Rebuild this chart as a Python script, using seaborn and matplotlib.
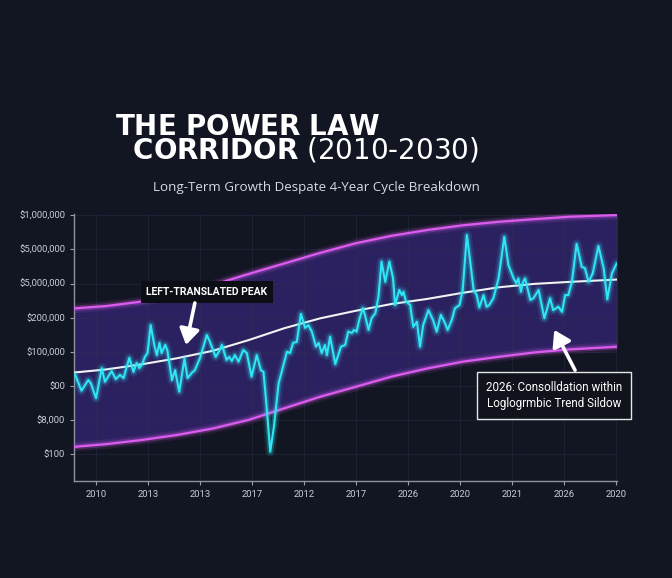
import numpy as np
import pandas as pd
import seaborn as sns
import matplotlib.pyplot as plt
import matplotlib.patheffects as pe

# tick labels, as printed on the chart
x_labels = ['2010', '2013', '2013', '2017', '2012', '2017', '2026', '2020', '2021', '2026', '2020']
y_labels = ['$100', '$8,000', '$00', '$100,000', '$200,000', '$5,000,000', '$5,000,000', '$1,000,000']

# power law corridor (positions in tick slots)
band_x = [-0.43, 0.19, 0.87, 1.56, 2.25, 2.93, 3.62, 4.31, 4.99, 5.68, 6.37, 7.06, 7.74, 8.43, 9.12, 10.06]
band_upper = [4.27, 4.34, 4.47, 4.68, 4.96, 5.28, 5.59, 5.90, 6.18, 6.40, 6.57, 6.71, 6.81, 6.89, 6.96, 7.01]
band_lower = [0.21, 0.29, 0.41, 0.56, 0.75, 1.00, 1.34, 1.68, 1.97, 2.27, 2.51, 2.71, 2.85, 2.98, 3.07, 3.15]
trend = [2.39, 2.48, 2.63, 2.81, 3.03, 3.34, 3.69, 3.98, 4.20, 4.40, 4.55, 4.73, 4.89, 4.99, 5.05, 5.12]

# price path
price_x = [-0.40, -0.28, -0.15, -0.10, 0.00, 0.11, 0.17, 0.30, 0.38, 0.46,
           0.53, 0.64, 0.72, 0.78, 0.83, 0.88, 0.94, 0.99, 1.05, 1.12,
           1.17, 1.22, 1.26, 1.33, 1.37, 1.42, 1.46, 1.52, 1.60, 1.70,
           1.76, 1.84, 1.90, 2.00, 2.13, 2.19, 2.30, 2.38, 2.42, 2.51,
           2.56, 2.61, 2.67, 2.74, 2.83, 2.90, 2.99, 3.09, 3.17, 3.22,
           3.28, 3.35, 3.42, 3.51, 3.57, 3.67, 3.73, 3.79, 3.86, 3.94,
           4.02, 4.08, 4.15, 4.23, 4.28, 4.34, 4.40, 4.44, 4.50, 4.60,
           4.71, 4.79, 4.85, 4.92, 4.96, 5.01, 5.06, 5.13, 5.17, 5.24,
           5.30, 5.37, 5.43, 5.49, 5.56, 5.64, 5.71, 5.75, 5.83, 5.88,
           5.91, 5.96, 6.04, 6.10, 6.17, 6.23, 6.29, 6.39, 6.48, 6.55,
           6.63, 6.71, 6.76, 6.84, 6.90, 6.99, 7.05, 7.13, 7.21, 7.26,
           7.32, 7.37, 7.45, 7.51, 7.56, 7.64, 7.74, 7.85, 7.93, 8.03,
           8.08, 8.12, 8.17, 8.21, 8.25, 8.35, 8.41, 8.51, 8.62, 8.73,
           8.79, 8.89, 8.96, 9.02, 9.08, 9.15, 9.24, 9.34, 9.40, 9.47,
           9.55, 9.66, 9.76, 9.83, 9.92, 10.01]
price_y = [2.32, 1.86, 2.17, 2.08, 1.64, 2.52, 2.12, 2.43, 2.20, 2.32,
           2.23, 2.82, 2.41, 2.67, 2.52, 2.61, 2.85, 2.96, 3.78, 3.20,
           2.90, 3.26, 2.96, 3.20, 3.05, 2.56, 2.17, 2.46, 1.83, 2.79,
           2.23, 2.38, 2.46, 2.82, 3.49, 3.29, 2.85, 3.05, 3.20, 2.76,
           2.85, 2.73, 2.90, 2.71, 3.05, 2.96, 2.27, 2.90, 2.46, 2.41,
           1.39, 0.07, 0.80, 2.07, 2.41, 3.00, 2.96, 3.26, 3.29, 4.11,
           3.70, 3.78, 3.59, 3.15, 3.26, 2.96, 3.20, 2.90, 3.44, 2.64,
           3.15, 3.20, 3.59, 3.55, 3.64, 3.59, 3.93, 4.28, 4.08, 3.64,
           3.99, 4.13, 4.61, 5.64, 5.05, 5.64, 5.16, 4.37, 4.81, 4.66,
           4.76, 4.47, 4.37, 3.73, 3.88, 3.15, 3.78, 4.22, 3.93, 3.59,
           4.08, 3.84, 3.64, 3.93, 4.27, 4.37, 4.81, 6.42, 5.45, 4.81,
           4.66, 4.30, 4.66, 4.32, 4.37, 4.57, 5.16, 6.37, 5.54, 5.15,
           5.01, 5.15, 4.76, 5.05, 5.15, 4.52, 4.57, 4.81, 3.98, 4.57,
           4.22, 4.32, 4.17, 4.66, 4.66, 5.05, 6.16, 5.49, 5.45, 5.05,
           5.30, 6.10, 5.45, 4.54, 5.30, 5.59]

bg = '#121522'
cyan = '#2ee6f5'
magenta = '#dc5cf0'

sns.set_style('dark', rc={'axes.facecolor': bg, 'figure.facecolor': bg})
plt.rcParams['font.family'] = ['Roboto', 'DejaVu Sans']
plt.rcParams['mathtext.fontset'] = 'dejavusans'

fig = plt.figure(figsize=(6.72, 5.78), dpi=100)
ax = fig.add_axes([0.1104, 0.1678, 0.808, 0.4626])

# corridor
ax.fill_between(band_x, band_lower, band_upper, color='#2b2060', lw=0, zorder=1)

def glow(c):
    return [pe.Stroke(linewidth=7, foreground=c, alpha=0.10),
            pe.Stroke(linewidth=4, foreground=c, alpha=0.25),
            pe.Normal()]

sns.lineplot(x=band_x, y=band_upper, ax=ax, color=magenta, lw=1.6, path_effects=glow(magenta), zorder=3)
sns.lineplot(x=band_x, y=band_lower, ax=ax, color=magenta, lw=1.6, path_effects=glow(magenta), zorder=3)
sns.lineplot(x=band_x, y=trend, ax=ax, color='#f2f2f2', lw=1.5, zorder=4)
sns.lineplot(x=price_x, y=price_y, ax=ax, color=cyan, lw=1.5, path_effects=glow(cyan), zorder=5)

ax.set_xlim(-0.42, 10.02)
ax.set_ylim(-0.79, 7.05)
ax.set_xticks(range(len(x_labels)))
ax.set_xticklabels(x_labels)
ax.set_yticks(range(len(y_labels)))
ax.set_yticklabels(y_labels)
ax.tick_params(colors='#9aa0ad', labelcolor='#c9ccd4', labelsize=6.8, length=3, width=0.8,
               direction='out', bottom=True, left=True)
for side in ['top', 'right']:
    ax.spines[side].set_visible(False)
for side in ['left', 'bottom']:
    ax.spines[side].set_visible(True)
    ax.spines[side].set_color('#8d929e')
    ax.spines[side].set_linewidth(1.0)
ax.set_axisbelow('line')
ax.grid(True, color='#2c3150', lw=0.6, alpha=0.5)
ax.set_xlabel('')
ax.set_ylabel('')

# annotations
arrow = dict(arrowstyle='-|>,head_length=0.95,head_width=0.6', color='white',
             lw=2.6, mutation_scale=10, shrinkA=0, shrinkB=0)
ax.text(2.13, 4.75, 'LEFT-TRANSLATED PEAK', color='white', fontsize=7.5, fontweight='semibold',
        ha='center', va='center', zorder=6,
        bbox=dict(boxstyle='square,pad=0.55', fc='#0c0e15', ec='none'))
ax.annotate('', xy=(1.73, 3.20), xytext=(1.90, 4.43), arrowprops=arrow, zorder=6)

ax.text(8.81, 1.72, '2026: Consolldation within\nLoglogrmbic Trend Sildow', color='white',
        fontsize=8.4, ha='center', va='center', linespacing=1.3, zorder=6, clip_on=False,
        bbox=dict(boxstyle='square,pad=0.75', fc='#10131c', ec='#e6e6e6', lw=1.0))
ax.annotate('', xy=(8.81, 3.64), xytext=(9.21, 2.46), arrowprops=arrow, zorder=6)

# title: bold words via mathtext so both lines stay one text
title_lines = r'$\mathbf{THE\ POWER\ LAW}$' + '\n' + r'  $\mathbf{CORRIDOR}$ (2010-2030)'
fig.text(115 / 672, 1 - 159 / 578, title_lines, color='white', fontsize=20,
         family='DejaVu Sans', va='baseline', ha='left', linespacing=0.8)
fig.text(0.228, 1 - 187 / 578, 'Long-Term Growth Despate 4-Year Cycle Breakdown',
         color='#d8dae2', fontsize=9.6, family=['Open Sans', 'DejaVu Sans'], va='center', ha='left')

fig.savefig('out.png', dpi=100, facecolor=bg)
